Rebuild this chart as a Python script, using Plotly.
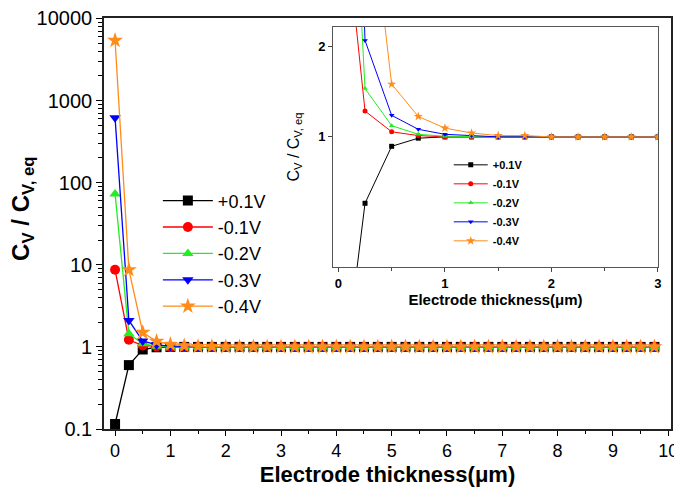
import plotly.graph_objects as go

thickness = [0, 0.25, 0.5, 0.75, 1, 1.25, 1.5, 1.75, 2, 2.25, 2.5, 2.75, 3, 3.25, 3.5, 3.75,
             4, 4.25, 4.5, 4.75, 5, 5.25, 5.5, 5.75, 6, 6.25, 6.5, 6.75, 7, 7.25, 7.5, 7.75,
             8, 8.25, 8.5, 8.75, 9, 9.25, 9.5, 9.75]

p01 = [0.115, 0.6, 0.93, 0.99, 1.0, 1.0, 1.0, 1.0, 1.0, 1.0, 1.0, 1.0, 1.0, 1.0, 1.0, 1.0,
       1.0, 1.0, 1.0, 1.0, 1.0, 1.0, 1.0, 1.0, 1.0, 1.0, 1.0, 1.0, 1.0, 1.0, 1.0, 1.0,
       1.0, 1.0, 1.0, 1.0, 1.0, 1.0, 1.0, 1.0]
m01 = [8.7, 1.22, 1.04, 1.01, 1.0, 1.0, 1.0, 1.0, 1.0, 1.0, 1.0, 1.0, 1.0, 1.0, 1.0, 1.0,
       1.0, 1.0, 1.0, 1.0, 1.0, 1.0, 1.0, 1.0, 1.0, 1.0, 1.0, 1.0, 1.0, 1.0, 1.0, 1.0,
       1.0, 1.0, 1.0, 1.0, 1.0, 1.0, 1.0, 1.0]
m02 = [73, 1.45, 1.09, 1.02, 1.005, 1.0, 1.0, 1.0, 1.0, 1.0, 1.0, 1.0, 1.0, 1.0, 1.0, 1.0,
       1.0, 1.0, 1.0, 1.0, 1.0, 1.0, 1.0, 1.0, 1.0, 1.0, 1.0, 1.0, 1.0, 1.0, 1.0, 1.0,
       1.0, 1.0, 1.0, 1.0, 1.0, 1.0, 1.0, 1.0]
m03 = [620, 2.1, 1.18, 1.06, 1.02, 1.01, 1.0, 1.0, 1.0, 1.0, 1.0, 1.0, 1.0, 1.0, 1.0, 1.0,
       1.0, 1.0, 1.0, 1.0, 1.0, 1.0, 1.0, 1.0, 1.0, 1.0, 1.0, 1.0, 1.0, 1.0, 1.0, 1.0,
       1.0, 1.0, 1.0, 1.0, 1.0, 1.0, 1.0, 1.0]
m04 = [5400, 8.7, 1.5, 1.17, 1.07, 1.03, 1.01, 1.01, 1.0, 1.0, 1.0, 1.0, 1.0, 1.0, 1.0, 1.0,
       1.0, 1.0, 1.0, 1.0, 1.0, 1.0, 1.0, 1.0, 1.0, 1.0, 1.0, 1.0, 1.0, 1.0, 1.0, 1.0,
       1.0, 1.0, 1.0, 1.0, 1.0, 1.0, 1.0, 1.0]

series_names = ["+0.1V", "-0.1V", "-0.2V", "-0.3V", "-0.4V"]
series_values = [p01, m01, m02, m03, m04]
colors = ["#000000", "#FF0000", "#22EE22", "#0000FF", "#FF8C1A"]
symbols = ["square", "circle", "triangle-up", "triangle-down", "star"]

y_tickvals = [0.1, 1, 10, 100, 1000, 10000]
y_ticktext = ["0.1", "1", "10", "100", "1000", "10000"]
x_tickvals = [0, 1, 2, 3, 4, 5, 6, 7, 8, 9, 10]
inset_x_tickvals = [0, 1, 2, 3]
inset_y_tickvals = [1, 2]

FONT = "Liberation Sans, Arial, sans-serif"

fig = go.Figure()
for name, vals, c, s in zip(series_names, series_values, colors, symbols):
    fig.add_trace(go.Scatter(
        x=thickness, y=vals, name=name, mode="lines+markers",
        line=dict(color=c, width=1.3),
        marker=dict(symbol=s, color=c, size=10 if s != "star" else 12, line=dict(width=0)),
        xaxis="x", yaxis="y", legend="legend"))
for name, vals, c, s in zip(series_names, series_values, colors, symbols):
    fig.add_trace(go.Scatter(
        x=thickness, y=vals, name=name, mode="lines+markers",
        line=dict(color=c, width=1),
        marker=dict(symbol=s, color=c, size=5 if s != "star" else 7, line=dict(width=0)),
        xaxis="x2", yaxis="y2", legend="legend2"))

# page body adds ~8px offset; figure is sized to fill the rest of the window
fig.update_layout(
    width=674, height=479,
    margin=dict(l=96, r=11, t=10, b=58, autoexpand=False),
    paper_bgcolor="white", plot_bgcolor="white",
    font=dict(family=FONT, color="black"),
    xaxis=dict(
        domain=[0, 1], range=[-0.2, 10.05], tickvals=x_tickvals, automargin=False,
        ticks="outside", ticklen=5, tickwidth=1.3, tickcolor="black",
        minor=dict(ticks="outside", ticklen=3, dtick=0.5, tick0=0, tickcolor="black"),
        showline=True, linecolor="#222", linewidth=1.6, mirror=True,
        showgrid=False, zeroline=False, ticklabeloverflow="allow",
        tickfont=dict(size=18, family=FONT),
        title=dict(text="<b>Electrode thickness(μm)</b>", font=dict(size=22, family=FONT), standoff=13),
    ),
    yaxis=dict(
        domain=[0, 1], type="log", range=[-1, 4.006], tickvals=y_tickvals, ticktext=y_ticktext,
        automargin=False, ticklabeloverflow="allow",
        ticks="outside", ticklen=6, tickwidth=1.3, tickcolor="black",
        minor=dict(ticks="outside", ticklen=4, dtick="D1", tickcolor="black"),
        showline=True, linecolor="#222", linewidth=1.6, mirror=True,
        showgrid=False, zeroline=False,
        tickfont=dict(size=20, family=FONT),
    ),
    xaxis2=dict(
        domain=[0.404, 0.977], anchor="y2", range=[-0.05, 3], tickvals=inset_x_tickvals,
        automargin=False,
        ticks="outside", ticklen=4, tickcolor="#444",
        minor=dict(ticks="outside", ticklen=3, dtick=0.5, tick0=0, tickcolor="#444"),
        showline=True, linecolor="#555", linewidth=1, mirror=True,
        showgrid=False, zeroline=False,
        tickfont=dict(size=13, family=FONT, weight="bold"),
        title=dict(text="<b>Electrode thickness(μm)</b>", font=dict(size=15, family=FONT), standoff=0),
    ),
    yaxis2=dict(
        domain=[0.394, 0.978], anchor="x2", type="log", range=[-0.435, 0.367],
        tickvals=inset_y_tickvals, automargin=False,
        ticks="outside", ticklen=4, tickcolor="#444",
        showline=True, linecolor="#555", linewidth=1, mirror=True,
        showgrid=False, zeroline=False,
        tickfont=dict(size=13, family=FONT, weight="bold"),
        title=dict(text="C<sub>V</sub> / C<sub>V, eq</sub>", font=dict(size=16, family=FONT), standoff=14),
    ),
    legend=dict(
        x=0.095, y=0.60, xanchor="left", yanchor="top",
        bgcolor="rgba(0,0,0,0)", borderwidth=0,
        font=dict(size=18, family=FONT), itemwidth=50, tracegroupgap=0,
    ),
    legend2=dict(
        x=0.608, y=0.678, xanchor="left", yanchor="top",
        bgcolor="rgba(0,0,0,0)", borderwidth=0,
        font=dict(size=11, family=FONT, weight="bold"), itemwidth=34, tracegroupgap=0,
    ),
    annotations=[dict(
        text="<b>C<sub>V</sub> / C<sub>V, eq</sub></b>", textangle=-90,
        xref="paper", yref="paper", x=-0.145, y=0.535, xanchor="center", yanchor="middle",
        showarrow=False, font=dict(size=24, family=FONT, color="black"),
    )],
)

fig.write_html("out.html")
